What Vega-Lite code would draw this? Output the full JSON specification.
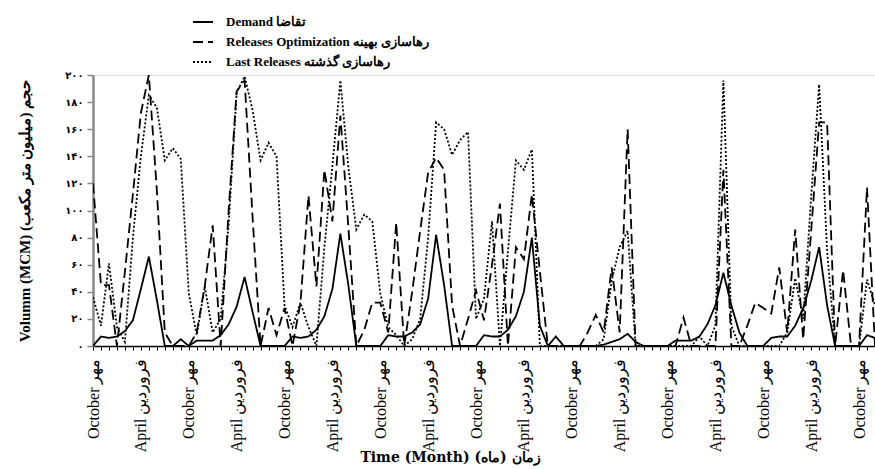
{
"$schema":"https://vega.github.io/schema/vega-lite/v6.json",
"autosize":{"type":"none"},
"padding":{"left":93,"top":75,"right":0,"bottom":123},
"width":782,"height":271,
"background":"white",
"data":{"values":[
{"month":0,"series":"Demand","value":0},{"month":1,"series":"Demand","value":7},{"month":2,"series":"Demand","value":6},{"month":3,"series":"Demand","value":7},{"month":4,"series":"Demand","value":11},{"month":5,"series":"Demand","value":19},{"month":6,"series":"Demand","value":42},{"month":7,"series":"Demand","value":66},{"month":8,"series":"Demand","value":34},{"month":9,"series":"Demand","value":0},
{"month":10,"series":"Demand","value":0},{"month":11,"series":"Demand","value":5},{"month":12,"series":"Demand","value":0},{"month":13,"series":"Demand","value":4},{"month":14,"series":"Demand","value":4},{"month":15,"series":"Demand","value":4},{"month":16,"series":"Demand","value":8},{"month":17,"series":"Demand","value":16},{"month":18,"series":"Demand","value":29},{"month":19,"series":"Demand","value":51},
{"month":20,"series":"Demand","value":25},{"month":21,"series":"Demand","value":0},{"month":22,"series":"Demand","value":0},{"month":23,"series":"Demand","value":0},{"month":24,"series":"Demand","value":0},{"month":25,"series":"Demand","value":7},{"month":26,"series":"Demand","value":6},{"month":27,"series":"Demand","value":7},{"month":28,"series":"Demand","value":12},{"month":29,"series":"Demand","value":22},
{"month":30,"series":"Demand","value":42},{"month":31,"series":"Demand","value":83},{"month":32,"series":"Demand","value":45},{"month":33,"series":"Demand","value":0},{"month":34,"series":"Demand","value":0},{"month":35,"series":"Demand","value":0},{"month":36,"series":"Demand","value":0},{"month":37,"series":"Demand","value":8},{"month":38,"series":"Demand","value":7},{"month":39,"series":"Demand","value":7},
{"month":40,"series":"Demand","value":10},{"month":41,"series":"Demand","value":16},{"month":42,"series":"Demand","value":35},{"month":43,"series":"Demand","value":82},{"month":44,"series":"Demand","value":45},{"month":45,"series":"Demand","value":0},{"month":46,"series":"Demand","value":0},{"month":47,"series":"Demand","value":0},{"month":48,"series":"Demand","value":0},{"month":49,"series":"Demand","value":8},
{"month":50,"series":"Demand","value":7},{"month":51,"series":"Demand","value":7},{"month":52,"series":"Demand","value":12},{"month":53,"series":"Demand","value":22},{"month":54,"series":"Demand","value":40},{"month":55,"series":"Demand","value":80},{"month":56,"series":"Demand","value":15},{"month":57,"series":"Demand","value":0},{"month":58,"series":"Demand","value":7},{"month":59,"series":"Demand","value":0},
{"month":60,"series":"Demand","value":0},{"month":61,"series":"Demand","value":0},{"month":62,"series":"Demand","value":0},{"month":63,"series":"Demand","value":0},{"month":64,"series":"Demand","value":1},{"month":65,"series":"Demand","value":3},{"month":66,"series":"Demand","value":5},{"month":67,"series":"Demand","value":9},{"month":68,"series":"Demand","value":3},{"month":69,"series":"Demand","value":0},
{"month":70,"series":"Demand","value":0},{"month":71,"series":"Demand","value":0},{"month":72,"series":"Demand","value":0},{"month":73,"series":"Demand","value":4},{"month":74,"series":"Demand","value":4},{"month":75,"series":"Demand","value":4},{"month":76,"series":"Demand","value":7},{"month":77,"series":"Demand","value":16},{"month":78,"series":"Demand","value":30},{"month":79,"series":"Demand","value":54},
{"month":80,"series":"Demand","value":30},{"month":81,"series":"Demand","value":10},{"month":82,"series":"Demand","value":0},{"month":83,"series":"Demand","value":0},{"month":84,"series":"Demand","value":0},{"month":85,"series":"Demand","value":6},{"month":86,"series":"Demand","value":7},{"month":87,"series":"Demand","value":7},{"month":88,"series":"Demand","value":15},{"month":89,"series":"Demand","value":28},
{"month":90,"series":"Demand","value":48},{"month":91,"series":"Demand","value":73},{"month":92,"series":"Demand","value":30},{"month":93,"series":"Demand","value":0},{"month":94,"series":"Demand","value":0},{"month":95,"series":"Demand","value":0},{"month":96,"series":"Demand","value":0},{"month":97,"series":"Demand","value":8},{"month":98,"series":"Demand","value":6},
{"month":0,"series":"Releases Optimization","value":120},{"month":1,"series":"Releases Optimization","value":45},{"month":2,"series":"Releases Optimization","value":45},{"month":3,"series":"Releases Optimization","value":0},{"month":4,"series":"Releases Optimization","value":55},{"month":5,"series":"Releases Optimization","value":112},{"month":6,"series":"Releases Optimization","value":172},{"month":7,"series":"Releases Optimization","value":200},{"month":8,"series":"Releases Optimization","value":115},{"month":9,"series":"Releases Optimization","value":10},
{"month":10,"series":"Releases Optimization","value":0},{"month":11,"series":"Releases Optimization","value":0},{"month":12,"series":"Releases Optimization","value":0},{"month":13,"series":"Releases Optimization","value":10},{"month":14,"series":"Releases Optimization","value":44},{"month":15,"series":"Releases Optimization","value":89},{"month":16,"series":"Releases Optimization","value":0},{"month":17,"series":"Releases Optimization","value":100},{"month":18,"series":"Releases Optimization","value":188},{"month":19,"series":"Releases Optimization","value":196},
{"month":20,"series":"Releases Optimization","value":95},{"month":21,"series":"Releases Optimization","value":0},{"month":22,"series":"Releases Optimization","value":28},{"month":23,"series":"Releases Optimization","value":8},{"month":24,"series":"Releases Optimization","value":28},{"month":25,"series":"Releases Optimization","value":0},{"month":26,"series":"Releases Optimization","value":32},{"month":27,"series":"Releases Optimization","value":111},{"month":28,"series":"Releases Optimization","value":44},{"month":29,"series":"Releases Optimization","value":130},
{"month":30,"series":"Releases Optimization","value":92},{"month":31,"series":"Releases Optimization","value":170},{"month":32,"series":"Releases Optimization","value":88},{"month":33,"series":"Releases Optimization","value":0},{"month":34,"series":"Releases Optimization","value":12},{"month":35,"series":"Releases Optimization","value":32},{"month":36,"series":"Releases Optimization","value":32},{"month":37,"series":"Releases Optimization","value":10},{"month":38,"series":"Releases Optimization","value":91},{"month":39,"series":"Releases Optimization","value":0},
{"month":40,"series":"Releases Optimization","value":40},{"month":41,"series":"Releases Optimization","value":85},{"month":42,"series":"Releases Optimization","value":128},{"month":43,"series":"Releases Optimization","value":139},{"month":44,"series":"Releases Optimization","value":130},{"month":45,"series":"Releases Optimization","value":30},{"month":46,"series":"Releases Optimization","value":0},{"month":47,"series":"Releases Optimization","value":20},{"month":48,"series":"Releases Optimization","value":41},{"month":49,"series":"Releases Optimization","value":19},
{"month":50,"series":"Releases Optimization","value":60},{"month":51,"series":"Releases Optimization","value":105},{"month":52,"series":"Releases Optimization","value":0},{"month":53,"series":"Releases Optimization","value":73},{"month":54,"series":"Releases Optimization","value":64},{"month":55,"series":"Releases Optimization","value":112},{"month":56,"series":"Releases Optimization","value":55},{"month":57,"series":"Releases Optimization","value":0},{"month":58,"series":"Releases Optimization","value":0},{"month":59,"series":"Releases Optimization","value":0},
{"month":60,"series":"Releases Optimization","value":0},{"month":61,"series":"Releases Optimization","value":0},{"month":62,"series":"Releases Optimization","value":10},{"month":63,"series":"Releases Optimization","value":23},{"month":64,"series":"Releases Optimization","value":10},{"month":65,"series":"Releases Optimization","value":58},{"month":66,"series":"Releases Optimization","value":10},{"month":67,"series":"Releases Optimization","value":160},{"month":68,"series":"Releases Optimization","value":0},{"month":69,"series":"Releases Optimization","value":0},
{"month":70,"series":"Releases Optimization","value":0},{"month":71,"series":"Releases Optimization","value":0},{"month":72,"series":"Releases Optimization","value":0},{"month":73,"series":"Releases Optimization","value":0},{"month":74,"series":"Releases Optimization","value":21},{"month":75,"series":"Releases Optimization","value":0},{"month":76,"series":"Releases Optimization","value":0},{"month":77,"series":"Releases Optimization","value":0},{"month":78,"series":"Releases Optimization","value":0},{"month":79,"series":"Releases Optimization","value":130},
{"month":80,"series":"Releases Optimization","value":0},{"month":81,"series":"Releases Optimization","value":0},{"month":82,"series":"Releases Optimization","value":15},{"month":83,"series":"Releases Optimization","value":32},{"month":84,"series":"Releases Optimization","value":28},{"month":85,"series":"Releases Optimization","value":24},{"month":86,"series":"Releases Optimization","value":58},{"month":87,"series":"Releases Optimization","value":10},{"month":88,"series":"Releases Optimization","value":86},{"month":89,"series":"Releases Optimization","value":5},
{"month":90,"series":"Releases Optimization","value":85},{"month":91,"series":"Releases Optimization","value":165},{"month":92,"series":"Releases Optimization","value":165},{"month":93,"series":"Releases Optimization","value":0},{"month":94,"series":"Releases Optimization","value":56},{"month":95,"series":"Releases Optimization","value":0},{"month":96,"series":"Releases Optimization","value":0},{"month":97,"series":"Releases Optimization","value":117},{"month":98,"series":"Releases Optimization","value":0},
{"month":0,"series":"Last Releases","value":36},{"month":1,"series":"Last Releases","value":15},{"month":2,"series":"Last Releases","value":61},{"month":3,"series":"Last Releases","value":14},{"month":4,"series":"Last Releases","value":3},{"month":5,"series":"Last Releases","value":80},{"month":6,"series":"Last Releases","value":140},{"month":7,"series":"Last Releases","value":185},{"month":8,"series":"Last Releases","value":176},{"month":9,"series":"Last Releases","value":137},
{"month":10,"series":"Last Releases","value":146},{"month":11,"series":"Last Releases","value":138},{"month":12,"series":"Last Releases","value":39},{"month":13,"series":"Last Releases","value":8},{"month":14,"series":"Last Releases","value":44},{"month":15,"series":"Last Releases","value":10},{"month":16,"series":"Last Releases","value":20},{"month":17,"series":"Last Releases","value":90},{"month":18,"series":"Last Releases","value":187},{"month":19,"series":"Last Releases","value":199},
{"month":20,"series":"Last Releases","value":174},{"month":21,"series":"Last Releases","value":137},{"month":22,"series":"Last Releases","value":150},{"month":23,"series":"Last Releases","value":140},{"month":24,"series":"Last Releases","value":30},{"month":25,"series":"Last Releases","value":14},{"month":26,"series":"Last Releases","value":32},{"month":27,"series":"Last Releases","value":14},{"month":28,"series":"Last Releases","value":0},{"month":29,"series":"Last Releases","value":73},
{"month":30,"series":"Last Releases","value":133},{"month":31,"series":"Last Releases","value":196},{"month":32,"series":"Last Releases","value":132},{"month":33,"series":"Last Releases","value":86},{"month":34,"series":"Last Releases","value":97},{"month":35,"series":"Last Releases","value":92},{"month":36,"series":"Last Releases","value":39},{"month":37,"series":"Last Releases","value":14},{"month":38,"series":"Last Releases","value":8},{"month":39,"series":"Last Releases","value":0},
{"month":40,"series":"Last Releases","value":5},{"month":41,"series":"Last Releases","value":20},{"month":42,"series":"Last Releases","value":80},{"month":43,"series":"Last Releases","value":165},{"month":44,"series":"Last Releases","value":160},{"month":45,"series":"Last Releases","value":141},{"month":46,"series":"Last Releases","value":152},{"month":47,"series":"Last Releases","value":158},{"month":48,"series":"Last Releases","value":20},{"month":49,"series":"Last Releases","value":35},
{"month":50,"series":"Last Releases","value":92},{"month":51,"series":"Last Releases","value":0},{"month":52,"series":"Last Releases","value":70},{"month":53,"series":"Last Releases","value":137},{"month":54,"series":"Last Releases","value":130},{"month":55,"series":"Last Releases","value":145},{"month":56,"series":"Last Releases","value":0},{"month":57,"series":"Last Releases","value":0},{"month":58,"series":"Last Releases","value":0},{"month":59,"series":"Last Releases","value":0},
{"month":60,"series":"Last Releases","value":0},{"month":61,"series":"Last Releases","value":0},{"month":62,"series":"Last Releases","value":0},{"month":63,"series":"Last Releases","value":0},{"month":64,"series":"Last Releases","value":5},{"month":65,"series":"Last Releases","value":48},{"month":66,"series":"Last Releases","value":73},{"month":67,"series":"Last Releases","value":85},{"month":68,"series":"Last Releases","value":0},{"month":69,"series":"Last Releases","value":0},
{"month":70,"series":"Last Releases","value":0},{"month":71,"series":"Last Releases","value":0},{"month":72,"series":"Last Releases","value":0},{"month":73,"series":"Last Releases","value":0},{"month":74,"series":"Last Releases","value":0},{"month":75,"series":"Last Releases","value":0},{"month":76,"series":"Last Releases","value":7},{"month":77,"series":"Last Releases","value":0},{"month":78,"series":"Last Releases","value":15},{"month":79,"series":"Last Releases","value":196},
{"month":80,"series":"Last Releases","value":15},{"month":81,"series":"Last Releases","value":0},{"month":82,"series":"Last Releases","value":0},{"month":83,"series":"Last Releases","value":0},{"month":84,"series":"Last Releases","value":0},{"month":85,"series":"Last Releases","value":0},{"month":86,"series":"Last Releases","value":0},{"month":87,"series":"Last Releases","value":10},{"month":88,"series":"Last Releases","value":50},{"month":89,"series":"Last Releases","value":20},
{"month":90,"series":"Last Releases","value":110},{"month":91,"series":"Last Releases","value":193},{"month":92,"series":"Last Releases","value":70},{"month":93,"series":"Last Releases","value":0},{"month":94,"series":"Last Releases","value":0},{"month":95,"series":"Last Releases","value":0},{"month":96,"series":"Last Releases","value":0},{"month":97,"series":"Last Releases","value":49},{"month":98,"series":"Last Releases","value":30}
]},
"mark":{"type":"line","color":"black","strokeWidth":1.8,"clip":true},
"encoding":{
"x":{"field":"month","type":"quantitative","scale":{"domain":[0,98],"nice":false,"zero":false},
"axis":{"values":[0,1,2,3,4,5,6,7,8,9,10,11,12,13,14,15,16,17,18,19,20,21,22,23,24,25,26,27,28,29,30,31,32,33,34,35,36,37,38,39,40,41,42,43,44,45,46,47,48,49,50,51,52,53,54,55,56,57,58,59,60,61,62,63,64,65,66,67,68,69,70,71,72,73,74,75,76,77,78,79,80,81,82,83,84,85,86,87,88,89,90,91,92,93,94,95,96,97,98],
"labelExpr":"datum.value % 12 == 0 ? 'October مهر' : (datum.value % 12 == 6 ? 'April فروردین' : '')",
"labelAngle":-90,"labelFont":"Liberation Serif","labelFontSize":16,"labelColor":"black","labelOverlap":false,"labelBound":false,"labelFlush":false,"labelPadding":8,"labelLimit":0,
"tickSize":4,"tickColor":"black","tickWidth":1,"domainColor":"black","domainWidth":1.5,"grid":false,
"title":"Time (Month)  زمان (ماه)","titleFont":"DejaVu Serif","titleFontSize":14,"titleFontWeight":"bold","titleColor":"black","titleX":357,"titleY":104,"titleBaseline":"top","titleAlign":"center","titleAngle":0}},
"y":{"field":"value","type":"quantitative","scale":{"domain":[0,200],"nice":false},
"axis":{"values":[0,20,40,60,80,100,120,140,160,180,200],
"labelExpr":"replace(replace(replace(replace(replace(replace(datum.label, regexp('0','g'), '۰'), regexp('1','g'), '۱'), regexp('2','g'), '۲'), regexp('4','g'), '۴'), regexp('6','g'), '۶'), regexp('8','g'), '۸')",
"labelFont":"DejaVu Sans","labelFontSize":10,"labelFontWeight":"bold","labelColor":"black","labelPadding":4,
"tickColor":"#888888","tickSize":6,"tickWidth":1.5,"domainColor":"#888888","domainWidth":2.5,"grid":false,
"title":"Volumm (MCM)  حجم (میلیون متر مکعب)","titleFont":"Liberation Serif","titleFontSize":15,"titleFontWeight":"bold","titleColor":"black","titlePadding":32}},
"strokeDash":{"field":"series","type":"nominal","scale":{"domain":["Demand","Releases Optimization","Last Releases"],"range":[[1,0],[10,5],[2,2]]},
"legend":{"orient":"none","legendX":99,"legendY":-64,"title":null,"symbolType":"stroke","symbolSize":400,"symbolStrokeWidth":2,"symbolStrokeColor":"black",
"labelExpr":"datum.label == 'Demand' ? 'Demand تقاضا' : (datum.label == 'Releases Optimization' ? 'Releases Optimization رهاسازی بهینه' : 'Last Releases رهاسازی گذشته')",
"labelFont":"Liberation Serif","labelFontSize":13,"labelFontWeight":"bold","labelColor":"black","labelLimit":0,"rowPadding":2,"labelOffset":12}}
}
}
